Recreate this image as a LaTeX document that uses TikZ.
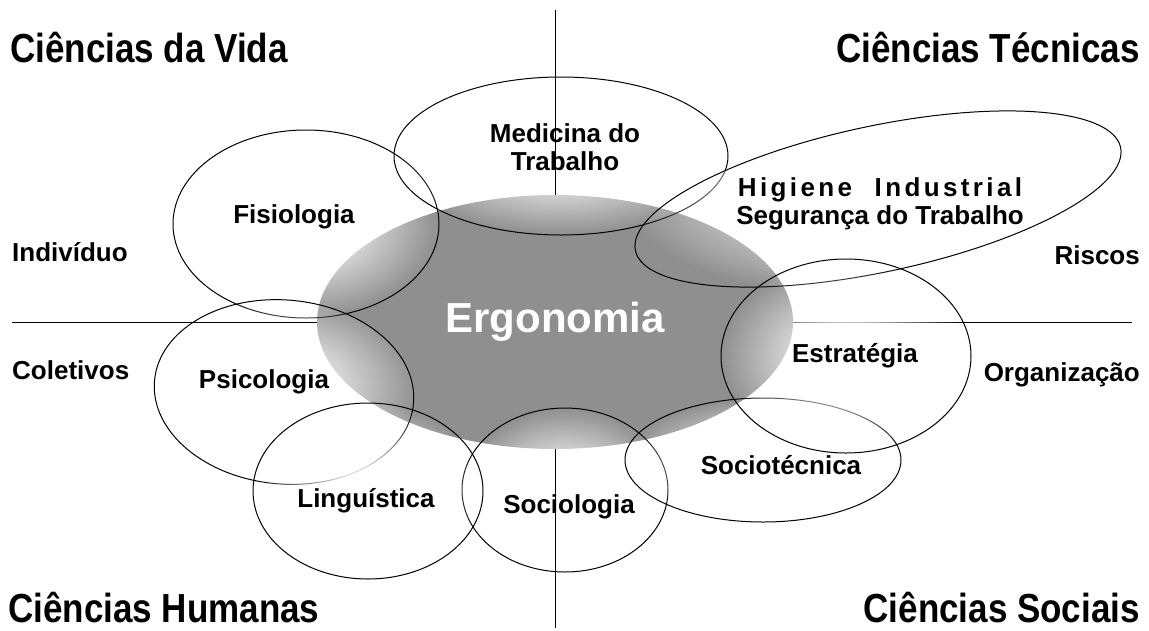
\documentclass[tikz,border=0pt]{standalone}
\usepackage{fontspec}
\setmainfont{Liberation Sans}
\usepackage{graphicx}
\usetikzlibrary{shapes.geometric,fadings}

% white centre, see-through rim
\pgfdeclareradialshading{lensshade}{\pgfpointorigin}{color(0bp)=(white); color(3bp)=(white); color(25bp)=(black); color(50bp)=(black)}
\pgfdeclarefading{lensfade}{\pgfuseshading{lensshade}}

\tikzset{
  lens/.style={draw=black, line width=1pt, preaction={fill=white, path fading=lensfade, fit fading=true}},
  lbl/.style={font=\fontsize{26}{28}\selectfont\bfseries, inner sep=0pt},
  head/.style={font=\fontsize{35}{40}\selectfont\bfseries, inner sep=0pt},
  axis/.style={line width=1pt},
}

\begin{document}
\begin{tikzpicture}[x=1pt,y=-1pt]
\useasboundingbox (0,0) rectangle (1149,630);
% centre
\node[ellipse, fill=black!44, minimum width=476pt, minimum height=254pt, inner sep=0pt,
  text=white, font=\fontsize{42}{46}\selectfont\bfseries] (ergo) at (555,322) {Ergonomia};
% lenses, bottom to top
\draw[lens] (306,224) ellipse [x radius=133pt, y radius=94pt];
\draw[lens] (561,156) ellipse [x radius=167pt, y radius=79pt];
\draw[lens, rotate around={12:(878,199)}] (878,199) ellipse [x radius=248pt, y radius=73pt];
\draw[lens] (565,490) ellipse [x radius=103pt, y radius=82pt];
\draw[lens] (763,460) ellipse [x radius=138pt, y radius=62pt];
\coordinate (east) at (1132,322);
\draw[axis] (ergo.east) -- (east);
\draw[lens] (846,356) ellipse [x radius=125pt, y radius=97pt];
\draw[lens, rotate around={-5:(284,392)}] (284,392) ellipse [x radius=130pt, y radius=92pt];
\draw[lens] (368,491) ellipse [x radius=115pt, y radius=88pt];
% axes
\coordinate (west) at (12,322);
\coordinate (north) at (555,10);
\coordinate (south) at (555,628);
\draw[axis] (west) -- (ergo.west);
\draw[axis] (north) -- (ergo.north);
\draw[axis] (ergo.south) -- (south);
% labels
\node[lbl, anchor=base] (fisio) at (294,223) {Fisiologia};
\node[lbl, align=center] (medic) at (565,147) {Medicina do\\Trabalho};
\node[lbl, align=center] (higie) at (880,204) {\addfontfeature{LetterSpace=13}Higiene\hspace{12pt} Industrial\\Segurança do Trabalho};
\node[lbl, anchor=base] (psico) at (264,388) {Psicologia};
\node[lbl, anchor=base] (lingu) at (366,507) {Linguística};
\node[lbl, anchor=base] (socio) at (569,513) {Sociologia};
\node[lbl, anchor=base] (sotec) at (781,474) {Sociotécnica};
\node[lbl, anchor=base] (estra) at (855,362) {Estratégia};
\node[lbl, anchor=base west] (indiv) at (12,261) {Indivíduo};
\node[lbl, anchor=base west] (colet) at (12,379) {Coletivos};
\node[lbl, anchor=base east] (risco) at (1140,264) {Riscos};
\node[lbl, anchor=base east] (organ) at (1140,381) {Organização};
\node[head, anchor=base west] (vida) at (10,62) {\scalebox{1}[1.16]{Ciências da Vida}};
\node[head, anchor=base east] (tecn) at (1140,62) {\scalebox{1}[1.16]{Ciências Técnicas}};
\node[head, anchor=base west] (human) at (8,622) {\scalebox{1}[1.16]{Ciências Humanas}};
\node[head, anchor=base east] (socia) at (1140,622) {\scalebox{1}[1.16]{Ciências Sociais}};
\end{tikzpicture}
\end{document}
